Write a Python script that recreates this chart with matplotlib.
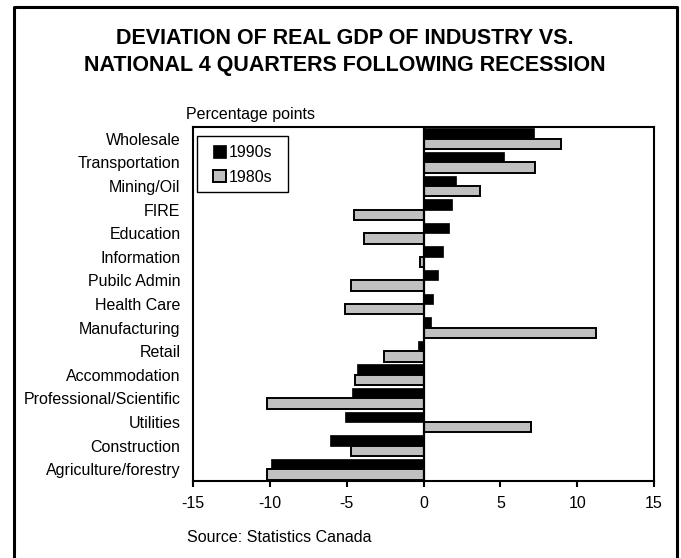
import matplotlib.pyplot as plt
import numpy as np
from matplotlib.patches import Rectangle
from matplotlib.lines import Line2D

plt.rcParams['font.family'] = ['Liberation Sans', 'DejaVu Sans']

industries = ['Wholesale', 'Transportation', 'Mining/Oil', 'FIRE', 'Education',
              'Information', 'Pubilc Admin', 'Health Care', 'Manufacturing',
              'Retail', 'Accommodation', 'Professional/Scientific', 'Utilities',
              'Construction', 'Agriculture/forestry']
dev_1990s = [7.2, 5.25, 2.1, 1.85, 1.65, 1.25, 0.95, 0.65, 0.5,
             -0.35, -4.35, -4.65, -5.1, -6.1, -9.95]
dev_1980s = [8.95, 7.25, 3.65, -4.55, -3.85, -0.2, -4.75, -5.1, 11.2,
             -2.6, -4.45, -10.2, 7.0, -4.75, -10.2]

fig = plt.figure(figsize=(6.81, 5.58), dpi=100)
ax = fig.add_axes([193/681, 1-481/558, 461/681, 354/558])

y = np.arange(len(industries))
h = 0.44
ax.barh(y - h/2, dev_1990s, height=h, color='black', edgecolor='black',
        linewidth=0.5, label='1990s', zorder=3)
ax.barh(y + h/2, dev_1980s, height=h, color='#c0c0c0', edgecolor='black',
        linewidth=1.4, label='1980s', zorder=3)

ax.axvline(0, color='black', lw=1.6, zorder=4)
ax.set_xlim(-15, 15)
ax.set_ylim(len(industries) - 0.5, -0.5)
ax.set_xticks([-15, -10, -5, 0, 5, 10, 15])
ax.set_xticklabels(['-15', '-10', '-5', '0', '5', '10', '15'], fontsize=11.5)
ax.set_yticks(y)
ax.set_yticklabels(industries, fontsize=11.5)
ax.tick_params(axis='y', length=0, pad=9)
ax.tick_params(axis='x', direction='out', length=4.5, width=1.5, pad=6)
for s in ax.spines.values():
    s.set_linewidth(1.5)

# legend: Excel-style box, wider than matplotlib would make it
ax.add_patch(Rectangle((4/461, 289/354), 91/461, 56/354, transform=ax.transAxes,
                       fill=False, edgecolor='black', linewidth=1.0, zorder=5,
                       clip_on=False))
leg = ax.legend(loc='upper left', bbox_to_anchor=(20/461, 336/354), fontsize=11.5,
                frameon=False, handlelength=0.8, handleheight=0.8, handletextpad=0.2,
                borderpad=0, labelspacing=0.6, borderaxespad=0)

fig.text(345/681, 1-38/558, 'DEVIATION OF REAL GDP OF INDUSTRY VS.', ha='center', va='center',
         fontsize=15.5, fontweight='bold')
fig.text(345/681, 1-65/558, 'NATIONAL 4 QUARTERS FOLLOWING RECESSION', ha='center', va='center',
         fontsize=15.5, fontweight='bold')
fig.text(186/681, 1-114/558, 'Percentage points', ha='left', va='center', fontsize=11.5)
fig.text(187/681, 1-537/558, 'Source: Statistics Canada', ha='left', va='center', fontsize=11.5)

# outer frame (bottom edge is cut off in the original)
fx = [14/681, 14/681, 677/681, 677/681]
fy = [-0.01, 1-7/558, 1-7/558, -0.01]
fig.lines.append(Line2D(fx, fy, transform=fig.transFigure, color='black', linewidth=2.2))

fig.savefig('out.png', dpi=100)
